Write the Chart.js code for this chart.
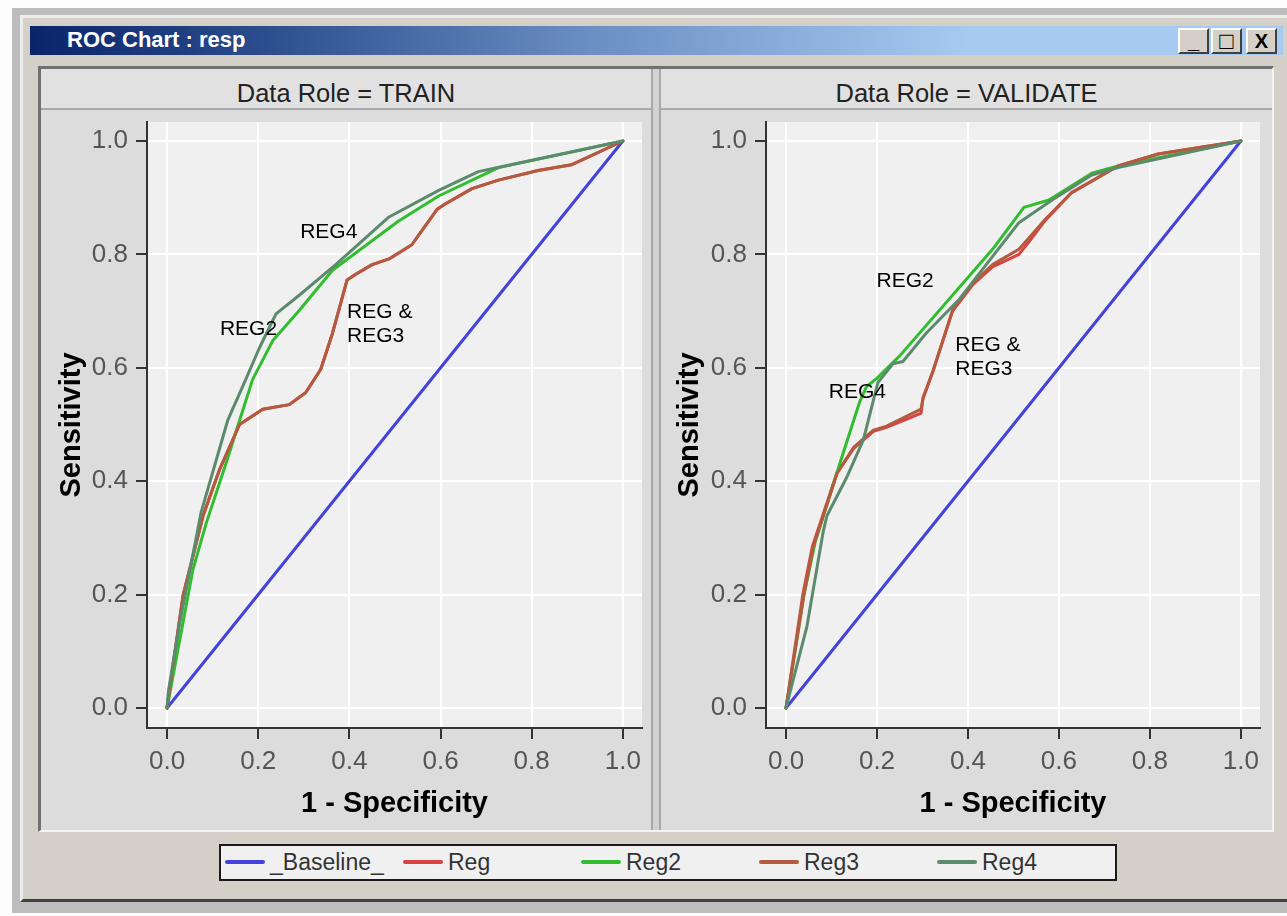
<!DOCTYPE html>
<html><head><meta charset="utf-8">
<script src="https://cdn.jsdelivr.net/npm/chart.js@4/dist/chart.umd.min.js"></script>
<style>
html,body{margin:0;padding:0;background:#fdfdfd;width:1287px;height:916px;overflow:hidden;font-family:"Liberation Sans",Arial,sans-serif;}
.a{position:absolute;box-sizing:border-box;}
#outer{left:12px;top:8px;width:1290px;height:905px;background:#bdbdbd;}
#body{left:20px;top:15px;width:1280px;height:887px;background:#d4d0c8;border-left:3px solid #ececec;border-top:3px solid #ececec;border-bottom:3px solid #404040;}
#titlebar{left:30px;top:26px;width:1253px;height:29px;background:linear-gradient(to right,#0a246a 0%,#2a4c8c 18%,#6c8fc4 45%,#a6caf0 75%,#a6caf0 100%);}
#titletext{left:67px;top:28px;color:#fff;font-weight:bold;font-size:22px;line-height:24px;white-space:nowrap;}
.btn{top:28px;width:31px;height:26px;background:#d4d0c8;border-top:2px solid #fff;border-left:2px solid #fff;border-right:2px solid #404040;border-bottom:2px solid #404040;font-weight:bold;font-size:20px;line-height:22px;text-align:center;color:#000;}
#group{left:38px;top:66px;width:1236px;height:766px;background:#dcdcdc;border-top:3px solid #707070;border-left:3px solid #707070;border-right:2px solid #f4f4f4;border-bottom:2px solid #f4f4f4;}
.hdr{top:69px;height:41px;background:#e1e1e1;border-bottom:2px solid #a9a9a9;font-size:25.5px;color:#222;text-align:center;line-height:48px;white-space:nowrap;}
#div{left:651px;top:69px;width:10px;height:761px;background:#d2d2d2;border-left:2px solid #a8a8a8;border-right:2px solid #a8a8a8;}
#legend{left:219px;top:844px;width:898px;height:37px;background:#f0f0f0;border:2px solid #1a1a1a;}
.li{top:0;height:33px;width:178px;white-space:nowrap;font-size:23px;color:#333;line-height:33px;}
.sw{display:inline-block;width:40px;height:4px;vertical-align:middle;margin-right:5px;position:relative;top:-2px;border-radius:2px;}
canvas{position:absolute;}
</style></head><body>
<div class="a" id="outer"></div>
<div class="a" id="body"></div>
<div class="a" id="titlebar"></div>
<div class="a" id="titletext">ROC Chart : resp</div>
<div class="a btn" style="left:1178px;">_</div>
<div class="a btn" style="left:1211px;font-size:24px;">&#9633;</div>
<div class="a btn" style="left:1246px;">X</div>
<div class="a" id="group"></div>
<div class="a hdr" style="left:41px;width:610px;">Data Role = TRAIN</div>
<div class="a hdr" style="left:661px;width:611px;">Data Role = VALIDATE</div>
<div class="a" id="div"></div>
<canvas id="c1" width="608" height="718" style="left:43px;top:110px;"></canvas>
<canvas id="c2" width="609" height="718" style="left:661px;top:110px;"></canvas>
<div class="a" id="legend"></div>
<script>
// ---- data ----
const seriesNames = ['_Baseline_','Reg','Reg2','Reg3','Reg4'];
const panelTitles = ['Data Role = TRAIN','Data Role = VALIDATE'];
const xTickValues = [0,0.2,0.4,0.6,0.8,1.0];
const yTickValues = [0,0.2,0.4,0.6,0.8,1.0];

// TRAIN
const trainBaseX = [0,1];
const trainBaseY = [0,1];
const trainRegX = [0,0.005,0.035,0.079,0.115,0.159,0.21,0.268,0.304,0.337,0.363,0.395,0.414,0.45,0.487,0.537,0.592,0.61,0.669,0.727,0.814,0.887,1];
const trainRegY = [0,0.03,0.198,0.339,0.42,0.5,0.527,0.535,0.556,0.597,0.661,0.755,0.765,0.782,0.792,0.817,0.879,0.889,0.916,0.931,0.948,0.958,1];
const trainReg2X = [0,0.057,0.086,0.13,0.159,0.188,0.232,0.29,0.363,0.508,0.596,0.727,1];
const trainReg2Y = [0,0.245,0.326,0.433,0.507,0.58,0.648,0.701,0.772,0.859,0.903,0.953,1];
const trainReg3X = [0,0.005,0.035,0.079,0.115,0.159,0.21,0.268,0.304,0.337,0.363,0.395,0.414,0.45,0.487,0.537,0.592,0.61,0.669,0.727,0.814,0.887,1];
const trainReg3Y = [0,0.03,0.198,0.339,0.42,0.5,0.527,0.535,0.556,0.597,0.661,0.755,0.765,0.782,0.792,0.817,0.879,0.889,0.916,0.931,0.948,0.958,1];
const trainReg4X = [0,0.003,0.028,0.075,0.133,0.14,0.173,0.202,0.239,0.29,0.37,0.487,0.596,0.683,0.741,1];
const trainReg4Y = [0,0.03,0.151,0.346,0.507,0.52,0.58,0.634,0.695,0.728,0.782,0.866,0.913,0.946,0.956,1];

// VALIDATE
const valBaseX = [0,1];
const valBaseY = [0,1];
const valRegX = [0,0.037,0.058,0.112,0.149,0.192,0.221,0.279,0.297,0.301,0.323,0.366,0.41,0.454,0.512,0.534,0.57,0.628,0.73,0.818,1];
const valRegY = [0,0.2,0.285,0.415,0.458,0.488,0.495,0.514,0.52,0.545,0.594,0.7,0.746,0.778,0.8,0.822,0.86,0.909,0.956,0.977,1];
const valReg2X = [0,0.039,0.064,0.119,0.162,0.177,0.199,0.25,0.454,0.523,0.578,0.672,0.73,1];
const valReg2Y = [0,0.198,0.292,0.433,0.54,0.567,0.581,0.621,0.809,0.883,0.896,0.943,0.956,1];
const valReg3X = [0,0.039,0.06,0.112,0.149,0.192,0.221,0.279,0.297,0.301,0.323,0.366,0.41,0.454,0.512,0.534,0.57,0.628,0.73,0.818,1];
const valReg3Y = [0,0.198,0.285,0.413,0.46,0.49,0.497,0.52,0.527,0.547,0.594,0.701,0.748,0.782,0.809,0.829,0.862,0.909,0.956,0.977,1];
const valReg4X = [0,0.046,0.082,0.09,0.133,0.17,0.202,0.235,0.257,0.308,0.381,0.512,0.585,0.672,0.73,1];
const valReg4Y = [0,0.144,0.312,0.339,0.406,0.473,0.574,0.607,0.611,0.661,0.721,0.856,0.896,0.94,0.953,1];

// annotation labels (data coordinates)
const trainNoteText = ['REG4','REG2','REG &','REG3'];
const trainNoteX = [0.292,0.116,0.395,0.395];
const trainNoteY = [0.839,0.668,0.698,0.656];
const valNoteText = ['REG2','REG &','REG3','REG4'];
const valNoteX = [0.199,0.372,0.372,0.094];
const valNoteY = [0.753,0.640,0.598,0.557];

// ---- styles ----
const colors = ['#4343dc','#d94343','#31bd2f','#b35a3f','#5c8a6c'];
const drawOrder = [5,4,3,2,1];
const FONT = '"Liberation Sans", Arial, sans-serif';

function pts(xs, ys){ return xs.map((x,i)=>({x:x, y:ys[i]})); }

const bgPlugin = {
  id:'plotbg',
  beforeDraw(chart){
    const {ctx, chartArea:a} = chart;
    ctx.save(); ctx.fillStyle = '#f0f0f0';
    ctx.fillRect(a.left, a.top, a.right-a.left, a.bottom-a.top);
    ctx.restore();
  }
};
const notePlugin = {
  id:'notes',
  afterDatasetsDraw(chart, args, opts){
    const ctx = chart.ctx, xs = chart.scales.x, ys = chart.scales.y;
    ctx.save();
    ctx.font = '21px ' + FONT; ctx.fillStyle = '#000';
    ctx.textAlign = 'left'; ctx.textBaseline = 'middle';
    opts.text.forEach((t,i)=>{
      ctx.fillText(t, xs.getPixelForValue(opts.x[i]), ys.getPixelForValue(opts.y[i]));
    });
    ctx.restore();
  }
};

function makeChart(id, series, notes, yWidth, padRight){
  const datasets = series.map((s,i)=>({
    label: seriesNames[i],
    data: pts(s[0], s[1]),
    showLine: true,
    borderColor: colors[i],
    backgroundColor: colors[i],
    borderWidth: 3,
    pointRadius: 0,
    tension: 0,
    borderJoinStyle: 'round',
    borderCapStyle: 'round',
    order: drawOrder[i]
  }));
  const common = (title)=>({
    type:'linear',
    afterBuildTicks(s){ s.ticks = (s.axis==='x'?xTickValues:yTickValues).map(v=>({value:v})); },
    ticks:{ callback:(v)=>Number(v).toFixed(1), font:{family:FONT, size:26}, color:'#555', autoSkip:false, maxRotation:0 },
    grid:{ color:'#ffffff', lineWidth:2, tickColor:'#333', tickLength:11, tickWidth:2 },
    border:{ display:true, color:'#333', width:2 },
    title:{ display:true, text:title, color:'#000', font:{family:FONT, size:29, weight:'bold'} }
  });
  const xs = common('1 - Specificity');
  xs.min = -0.044; xs.max = 1.042; xs.position='bottom';
  xs.ticks.padding = 7;
  xs.title.padding = {top:0,bottom:7};
  xs.afterFit = (s)=>{ s.height = 100; s.paddingLeft = 0; s.paddingRight = 0; };
  const ys = common('Sensitivity');
  ys.min = -0.0353; ys.max = 1.0335; ys.position='left';
  ys.ticks.padding = 8;
  ys.title.padding = {top:12,bottom:0};
  ys.afterFit = (s)=>{ s.width = yWidth; s.paddingTop = 0; s.paddingBottom = 0; };
  return new Chart(document.getElementById(id), {
    type:'scatter',
    data:{ datasets },
    options:{
      responsive:false, animation:false, devicePixelRatio:1,
      layout:{ padding:{ top:12, right:padRight, left:0, bottom:0 } },
      plugins:{ legend:{display:false}, tooltip:{enabled:false}, notes:notes },
      scales:{ x:xs, y:ys }
    },
    plugins:[bgPlugin, notePlugin]
  });
}

makeChart('c1', [[trainBaseX,trainBaseY],[trainRegX,trainRegY],[trainReg2X,trainReg2Y],[trainReg3X,trainReg3Y],[trainReg4X,trainReg4Y]],
  {text:trainNoteText, x:trainNoteX, y:trainNoteY}, 104, 9);
makeChart('c2', [[valBaseX,valBaseY],[valRegX,valRegY],[valReg2X,valReg2Y],[valReg3X,valReg3Y],[valReg4X,valReg4Y]],
  {text:valNoteText, x:valNoteX, y:valNoteY}, 105, 10);

// legend (HTML)
const leg = document.getElementById('legend');
seriesNames.forEach((n,i)=>{
  const d = document.createElement('div');
  d.className = 'a li';
  d.style.left = (4 + i*178) + 'px';
  d.innerHTML = '<span class="sw" style="background:'+colors[i]+'"></span>' + n;
  leg.appendChild(d);
});
</script>
</body></html>
